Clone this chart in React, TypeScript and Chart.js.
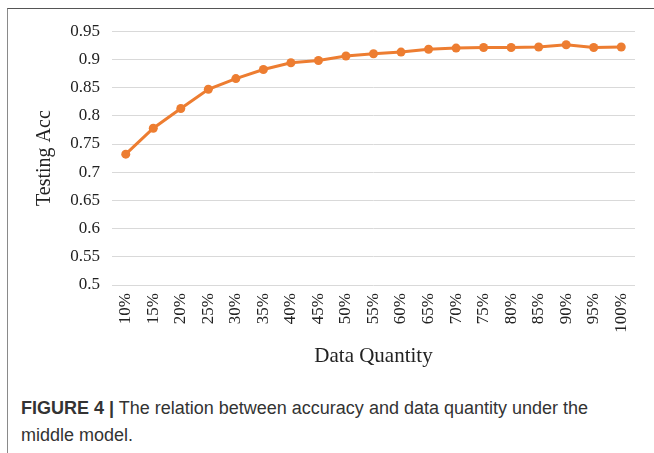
import React, { useEffect, useRef } from "react";
import { Chart, registerables } from "chart.js";

Chart.register(...registerables);

const categories = ["10%", "15%", "20%", "25%", "30%", "35%", "40%", "45%", "50%", "55%", "60%", "65%", "70%", "75%", "80%", "85%", "90%", "95%", "100%"];
const testingAcc = [0.732, 0.778, 0.813, 0.847, 0.866, 0.882, 0.894, 0.898, 0.906, 0.91, 0.913, 0.918, 0.92, 0.921, 0.921, 0.922, 0.926, 0.921, 0.922];
const yTicks = [0.5, 0.55, 0.6, 0.65, 0.7, 0.75, 0.8, 0.85, 0.9, 0.95];

const SERIF = "'Liberation Serif', 'Times New Roman', serif";
const ORANGE = "#ED7D31";

export default function App() {
  const ref = useRef<HTMLCanvasElement | null>(null);

  useEffect(() => {
    if (!ref.current) return;
    Chart.defaults.font.family = SERIF;
    const chart = new Chart(ref.current, {
      type: "line",
      data: {
        labels: categories,
        datasets: [
          {
            label: "Testing Acc",
            data: testingAcc,
            borderColor: ORANGE,
            backgroundColor: ORANGE,
            borderWidth: 3,
            pointRadius: 4.5,
            pointBackgroundColor: ORANGE,
            pointBorderColor: ORANGE,
            pointBorderWidth: 0,
            tension: 0,
          },
        ],
      },
      options: {
        animation: false,
        responsive: false,
        maintainAspectRatio: false,
        layout: { padding: { left: 0, right: 19, top: 18, bottom: 0 } },
        plugins: { legend: { display: false }, tooltip: { enabled: false } },
        scales: {
          x: {
            type: "category",
            offset: true,
            grid: { display: false, drawTicks: false },
            border: { display: false },
            ticks: {
              minRotation: 90,
              maxRotation: 90,
              autoSkip: false,
              padding: 8,
              color: "#222",
              font: { family: SERIF, size: 17 },
            },
            title: {
              display: true,
              text: "Data Quantity",
              color: "#222",
              font: { family: SERIF, size: 21 },
              padding: { top: 0, bottom: 15 },
            },
            afterFit: (s: any) => {
              s.height = 99;
            },
          },
          y: {
            min: 0.5,
            max: 0.95,
            afterBuildTicks: (s: any) => {
              s.ticks = yTicks.map((v) => ({ value: v }));
            },
            grid: { color: "#d9d9d9", lineWidth: 1, drawTicks: false },
            border: { display: false },
            ticks: {
              padding: 12,
              color: "#222",
              font: { family: SERIF, size: 17 },
              callback: (v: any) => String(Number(v)),
            },
            title: {
              display: true,
              text: "Testing Acc",
              color: "#222",
              font: { family: SERIF, size: 20 },
              padding: { top: 25, bottom: 0 },
            },
            afterFit: (s: any) => {
              s.width = 104;
            },
          },
        },
      },
    });
    return () => chart.destroy();
  }, []);

  return (
    <div
      style={{
        position: "absolute",
        left: 7,
        top: 8,
        width: 660,
        height: 460,
        borderLeft: "1px solid #8a8a8a",
        borderTop: "1px solid #555",
        boxSizing: "border-box",
      }}
    >
      <canvas ref={ref} width={646} height={375} style={{ display: "block", width: 646, height: 375 }} />
      <div
        style={{
          position: "absolute",
          left: 13,
          top: 386,
          width: 600,
          fontFamily: "'Liberation Sans', Arial, Helvetica, sans-serif",
          fontSize: 18,
          lineHeight: "27px",
          color: "#333",
        }}
      >
        <span style={{ fontWeight: "bold" }}>FIGURE 4 |</span> The relation between accuracy and data quantity under the middle model.
      </div>
    </div>
  );
}
